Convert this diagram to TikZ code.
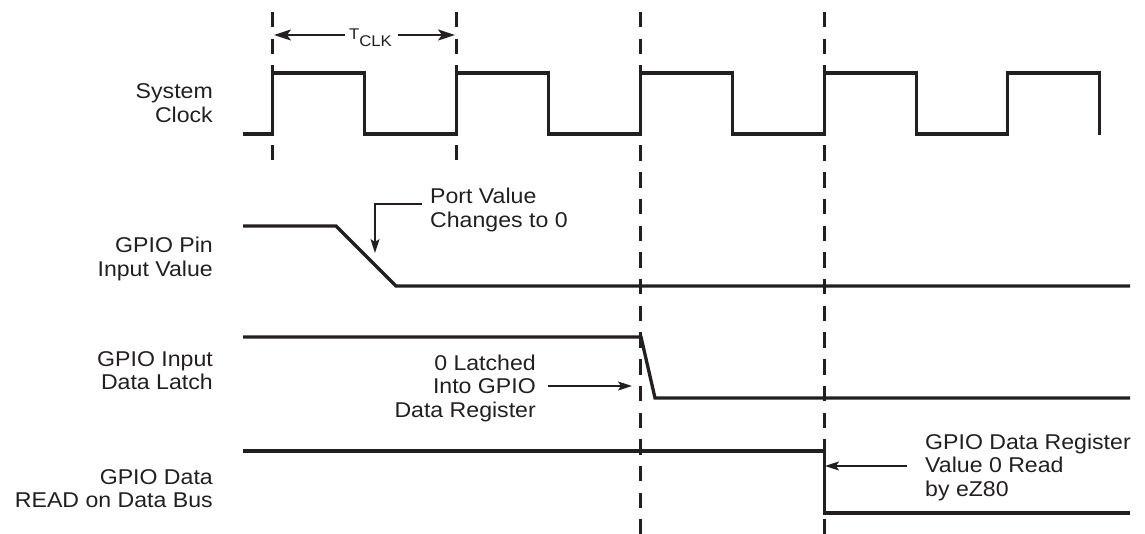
\documentclass[tikz,border=0pt]{standalone}
\usepackage{fontspec}
\setmainfont{Liberation Sans}[FakeStretch=1.08]
\usetikzlibrary{arrows.meta}
\definecolor{ink}{HTML}{231F20}
\newcommand\mylines[2]{\begin{tabular}[t]{@{}#1@{}}#2\end{tabular}}
\begin{document}
\begin{tikzpicture}[x=1pt,y=-1pt,
  sig/.style={draw=ink, line width=3.3pt, line join=miter},
  guide/.style={draw=ink, line width=2.2pt, dash pattern=on 15.5pt off 11.2pt},
  pointer/.style={draw=ink, line width=1.6pt, -{Stealth[length=14pt,width=9pt,inset=3pt]}},
  bigptr/.style={draw=ink, line width=2.2pt, -{Stealth[length=17pt,width=11pt,inset=4pt]}},
  lbl/.style={inner sep=0pt, text=ink, font=\fontsize{21.4}{23.8}\selectfont},
  tlbl/.style={inner sep=0pt, text=ink, font=\fontsize{15.5}{16}\selectfont}]
\useasboundingbox (0,0) rectangle (1145,534);

% guide lines
\draw[guide] (272.5,12) -- (272.5,160);
\draw[guide] (456.5,12) -- (456.5,160);
\draw[guide] (640.5,12) -- (640.5,534);
\draw[guide] (824.5,12) -- (824.5,534);

% system clock
\draw[sig] (243,134) -- (272.5,134) -- (272.5,73) -- (364.5,73) -- (364.5,134)
  -- (456.5,134) -- (456.5,73) -- (548.5,73) -- (548.5,134)
  -- (640.5,134) -- (640.5,73) -- (732.5,73) -- (732.5,134)
  -- (824.5,134) -- (824.5,73) -- (916.5,73) -- (916.5,134)
  -- (1007.5,134) -- (1007.5,73) -- (1099.5,73) -- (1099.5,135);

% GPIO pin input value
\draw[sig] (243,226) -- (336,226) -- (396,286) -- (1130,286);
% GPIO input data latch
\draw[sig] (243,337) -- (641,337) -- (655,398) -- (1130,398);
% GPIO data read
\draw[sig] (243,451) -- (824.5,451) -- (824.5,513) -- (1130,513);

% T_CLK
\node[tlbl, anchor=base] (tclk) at (370.5,40) {T\raisebox{-7pt}{CLK}};
\coordinate (ta) at (345,35);
\coordinate (tl) at (274,35);
\coordinate (tb) at (398,35);
\coordinate (tr) at (455,35);
\draw[bigptr] (ta) -- (tl);
\draw[bigptr] (tb) -- (tr);

% left labels
\node[lbl, anchor=base east] (sysclk) at (213,99) {\mylines{r}{System\\Clock}};
\node[lbl, anchor=base east] (pinlbl) at (213,253) {\mylines{r}{GPIO Pin\\Input Value}};
\node[lbl, anchor=base east] (latchlbl) at (213,366) {\mylines{r}{GPIO Input\\Data Latch}};
\node[lbl, anchor=base east] (readlbl) at (213,484) {\mylines{r}{GPIO Data\\READ on Data Bus}};

% annotations
\node[lbl, anchor=base west] (pvtext) at (430,203.5) {\mylines{l}{Port Value\\Changes to 0}};
\coordinate (pv1) at (422,204);
\coordinate (pv2) at (375,204);
\coordinate (pv3) at (375,253);
\draw[pointer] (pv1) -- (pv2) -- (pv3);

\node[lbl, anchor=base east] (lattext) at (536,370) {\mylines{r}{0 Latched\\Into GPIO\\Data Register}};
\coordinate (la1) at (548,386);
\coordinate (la2) at (632,386);
\draw[pointer] (la1) -- (la2);

\node[lbl, anchor=base west] (readtext) at (925,449) {\mylines{l}{GPIO Data Register\\Value 0 Read\\by eZ80}};
\coordinate (rd1) at (907,466);
\coordinate (rd2) at (825,466);
\draw[pointer] (rd1) -- (rd2);
\end{tikzpicture}
\end{document}
